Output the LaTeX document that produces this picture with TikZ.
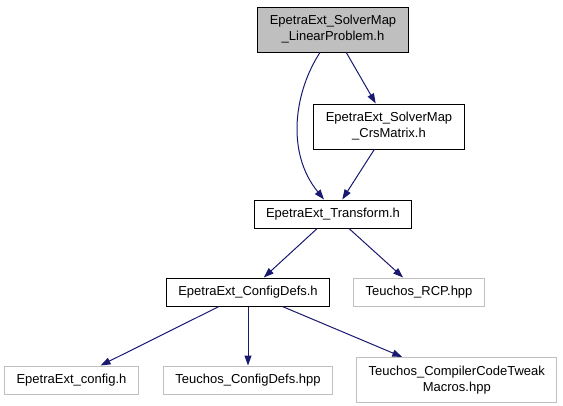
\documentclass[tikz,border=0pt]{standalone}
\usepackage{fontspec}
\setmainfont{Liberation Sans}
\usepackage{tikz}
\usetikzlibrary{
  arrows.meta,
  positioning
}
\definecolor{dxblue}{RGB}{25,25,112}
\definecolor{dxgray}{RGB}{191,191,191}
\tikzset{
  file/.style={
    rectangle, draw=black, line width=1pt, fill=white,
    inner xsep=12pt, inner ysep=0pt, minimum height=28pt,
    align=center, font=\fontsize{13}{16}\selectfont
  },
  fileD/.style={
    file, minimum height=45pt
  },
  fileG/.style={
    fileD, fill=dxgray
  },
  ext/.style={
    file, draw=dxgray
  },
  extD/.style={
    ext, minimum height=45pt
  },
  arrowB/.style={-{Stealth[length=10pt,width=7pt,inset=0pt]}, line width=1pt, color=dxblue}
}

\begin{document}
\begin{tikzpicture}[x=1pt, y=1pt]
  \useasboundingbox (0,0) rectangle (563,-405);

  % Row 1: the documented header
  \node[fileG] at (333,-29.5) (lin) {EpetraExt\_SolverMap\\\_LinearProblem.h};

  % Row 2
  \node[fileD, below=51pt of lin, xshift=56pt] (crs) {EpetraExt\_SolverMap\\\_CrsMatrix.h};

  % Row 3
  \node[file, below=50pt of crs, xshift=-56pt] (trf) {EpetraExt\_Transform.h};

  % Row 4
  \node[file, below=49pt of trf, xshift=-85pt] (cfg) {EpetraExt\_ConfigDefs.h};
  \node[ext, right=23pt of cfg] (rcp) {Teuchos\_RCP.hpp};

  % Row 5: leaves
  \node[ext, below=59pt of cfg] (tcd) {Teuchos\_ConfigDefs.hpp};
  \node[ext, below=59pt of cfg, xshift=-176.5pt] (cnf) {EpetraExt\_config.h};
  \node[extD, right=23pt of tcd] (twk) {Teuchos\_CompilerCodeTweak\\Macros.hpp};

  \draw[arrowB] (lin) -- (crs);
  \draw[arrowB] ([xshift=-13pt]lin.south)
        .. controls +(-25,-38) and +(-39,48) .. ([xshift=-9pt]trf.north);
  \draw[arrowB] (crs) -- (trf);
  \draw[arrowB] (trf) -- (cfg);
  \draw[arrowB] (trf) -- (rcp);
  \draw[arrowB] (cfg) -- (cnf);
  \draw[arrowB] (cfg) -- (tcd);
  \draw[arrowB] (cfg) -- (twk);
\end{tikzpicture}
\end{document}
